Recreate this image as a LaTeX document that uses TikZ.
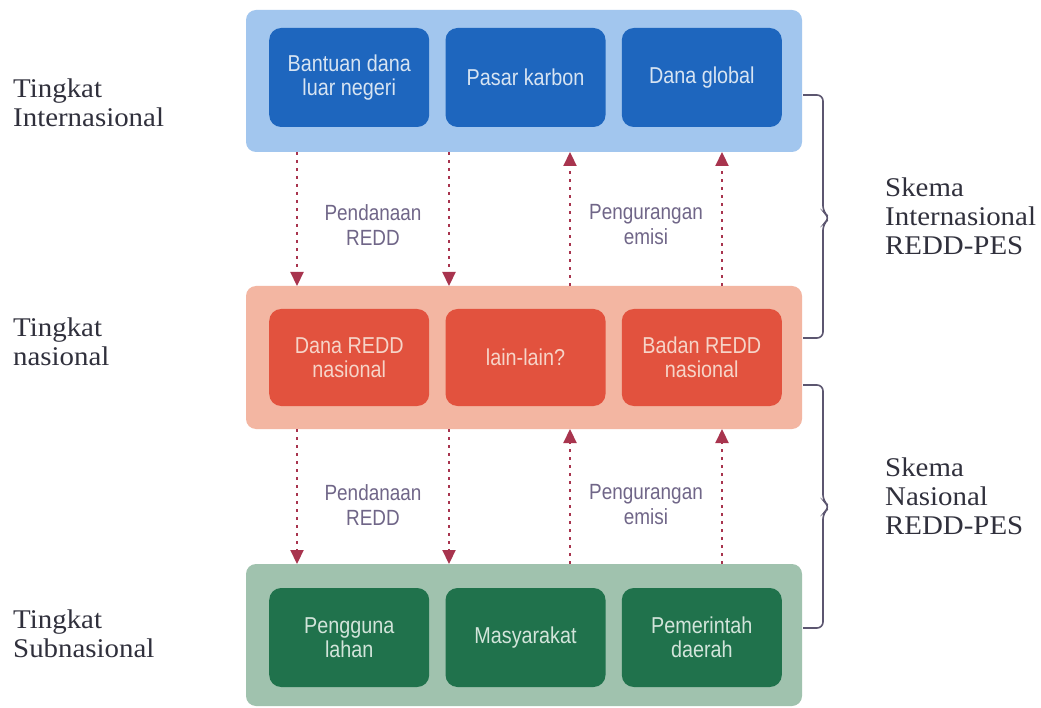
\documentclass[tikz,border=0pt]{standalone}
\usepackage{fontspec}
\setmainfont{Liberation Serif}[FakeStretch=1.07]
\newfontfamily\cond{Liberation Sans}[FakeStretch=0.86]
\usetikzlibrary{arrows.meta}
\definecolor{bluePanel}{RGB}{162,198,238}
\definecolor{blueBox}{RGB}{30,102,190}
\definecolor{blueTxt}{RGB}{215,228,242}
\definecolor{redPanel}{RGB}{243,182,162}
\definecolor{redBox}{RGB}{226,82,62}
\definecolor{redTxt}{RGB}{246,212,200}
\definecolor{greenPanel}{RGB}{160,194,174}
\definecolor{greenBox}{RGB}{32,114,76}
\definecolor{greenTxt}{RGB}{210,228,218}
\definecolor{arrowCol}{RGB}{168,52,78}
\definecolor{midTxt}{RGB}{112,102,136}
\definecolor{sideTxt}{RGB}{48,48,60}
\definecolor{braceCol}{RGB}{92,86,112}
\begin{document}
\begin{tikzpicture}[x=1pt,y=-1pt,
  panel/.style={draw=none,rounded corners=10pt,minimum width=556pt,outer sep=0pt,inner sep=0pt},
  cbox/.style={draw=none,rounded corners=12pt,minimum width=160pt,minimum height=99pt,outer sep=0pt,
    align=center,font=\cond\fontsize{23}{24}\selectfont},
  flow/.style={draw=arrowCol,line width=2.2pt,dash pattern=on 3pt off 5pt,
    -{Triangle[width=13pt,length=14pt]}},
  midlabel/.style={align=center,text=midTxt,font=\cond\fontsize{22}{25}\selectfont},
  sidelabel/.style={align=left,anchor=west,text=sideTxt,inner sep=0pt,font=\fontsize{27}{29}\selectfont},
  brc/.style={draw=braceCol,line width=1.6pt,rounded corners=6pt}]
\useasboundingbox (0,0) rectangle (1041,708);
\fill[white] (0,0) rectangle (1041,708);

% panels
\node[panel,fill=bluePanel,minimum height=142pt] (pInt) at (524,81) {};
\node[panel,fill=redPanel,minimum height=143pt] (pNat) at (524,357.5) {};
\node[panel,fill=greenPanel,minimum height=142pt] (pSub) at (524,635) {};

% boxes
\node[cbox,fill=blueBox,text=blueTxt] (b1) at (349.2,77.5) {Bantuan dana\\luar negeri};
\node[cbox,fill=blueBox,text=blueTxt] (b2) at (525.5,77.5) {Pasar karbon};
\node[cbox,fill=blueBox,text=blueTxt] (b3) at (701.8,77.5) {Dana global};
\node[cbox,fill=redBox,text=redTxt,minimum height=97pt] (r1) at (349.2,357.5) {Dana REDD\\nasional};
\node[cbox,fill=redBox,text=redTxt,minimum height=97pt] (r2) at (525.5,357.5) {lain-lain?};
\node[cbox,fill=redBox,text=redTxt,minimum height=97pt] (r3) at (701.8,357.5) {Badan REDD\\nasional};
\node[cbox,fill=greenBox,text=greenTxt] (g1) at (349.2,637.5) {Pengguna\\lahan};
\node[cbox,fill=greenBox,text=greenTxt] (g2) at (525.5,637.5) {Masyarakat};
\node[cbox,fill=greenBox,text=greenTxt] (g3) at (701.8,637.5) {Pemerintah\\daerah};

% arrow columns
\coordinate (xa) at (297,0);
\coordinate (xb) at (449,0);
\coordinate (xc) at (570,0);
\coordinate (xd) at (722,0);

\draw[flow] (pInt.south -| xa) -- (pNat.north -| xa);
\draw[flow] (pInt.south -| xb) -- (pNat.north -| xb);
\draw[flow] (pNat.north -| xc) -- (pInt.south -| xc);
\draw[flow] (pNat.north -| xd) -- (pInt.south -| xd);
\draw[flow] (pNat.south -| xa) -- (pSub.north -| xa);
\draw[flow] (pNat.south -| xb) -- (pSub.north -| xb);
\draw[flow] (pSub.north -| xc) -- (pNat.south -| xc);
\draw[flow] (pSub.north -| xd) -- (pNat.south -| xd);

\node[midlabel] (l1) at (373,225) {Pendanaan\\REDD};
\node[midlabel] (l2) at (646,225) {Pengurangan\\emisi};
\node[midlabel] (l3) at (373,505) {Pendanaan\\REDD};
\node[midlabel] (l4) at (646,505) {Pengurangan\\emisi};

% side labels
\node[sidelabel] (s1) at (13,103) {Tingkat\\Internasional};
\node[sidelabel] (s2) at (13,342) {Tingkat\\nasional};
\node[sidelabel] (s3) at (13,634) {Tingkat\\Subnasional};

\node[sidelabel] (k1) at (885,216) {Skema\\Internasional\\REDD-PES};
\node[sidelabel] (k2) at (885,496) {Skema\\Nasional\\REDD-PES};

% braces
\draw[brc] (803,95) -- (823,95) -- (823,212) -- (830,218) -- (823,224) -- (823,338) -- (803,338);
\draw[brc] (803,385) -- (823,385) -- (823,501) -- (830,507) -- (823,513) -- (823,628) -- (803,628);
\end{tikzpicture}
\end{document}
